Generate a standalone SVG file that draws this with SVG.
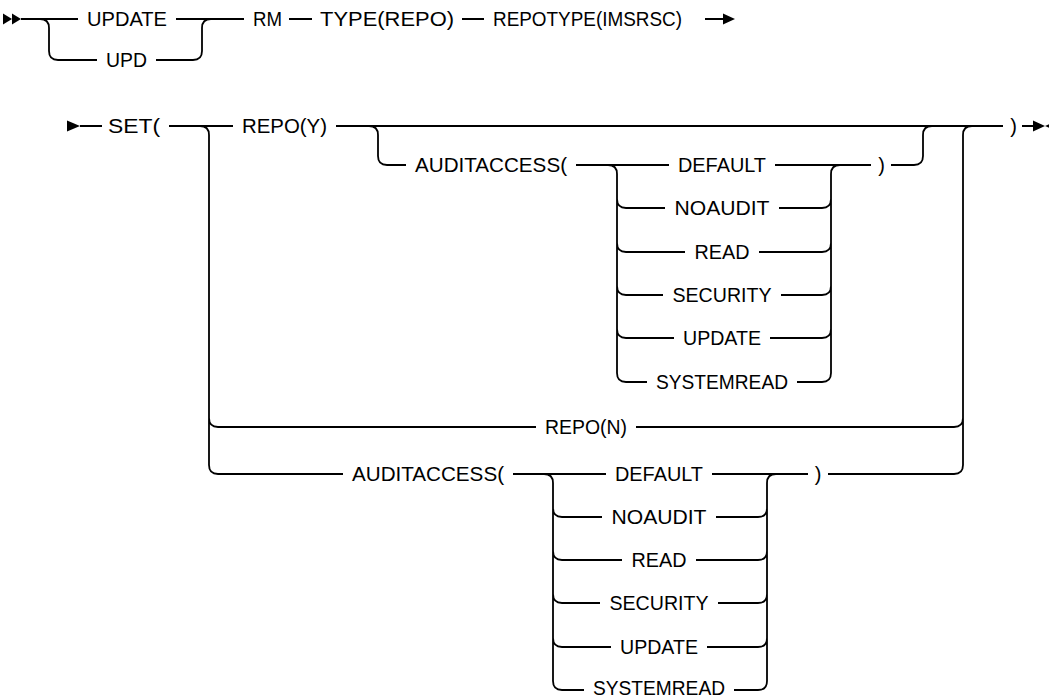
<svg xmlns="http://www.w3.org/2000/svg" width="1049" height="696" viewBox="0 0 1049 696">
<style>
  .t { font-family: "Liberation Sans", Arial, sans-serif; font-size: 20px; fill: #000; text-anchor: middle; }
  .c { fill: none; stroke: #000; stroke-width: 1.8; }
  .m { fill: #000; stroke: none; }
</style>
<rect width="1049" height="696" fill="#fff"/>
<g id="connectors">
  <!-- row 1 -->
  <polygon class="m" points="3,13.5 3,24.5 12,19"/>
  <polygon class="m" points="12,13.5 12,24.5 21,19"/>
  <path class="c" d="M21,19 H78 M176,19 H244 M289,19 H312 M462,19 H484 M705,19 H724"/>
  <polygon class="m" points="723,13.5 723,24.5 735,19"/>
  <path class="c" d="M40,19 Q49,19 49,28 V51 Q49,60 58,60 H97 M156,60 H193 Q202,60 202,51 V28 Q202,19 211,19"/>
  <!-- row 2 main -->
  <polygon class="m" points="67,120.5 67,131.5 80,126"/>
  <path class="c" d="M80,126 H102 M169,126 H233 M336,126 H1003 M1022,126 H1034"/>
  <polygon class="m" points="1033,120.5 1033,131.5 1045,126"/>
  <polygon class="m" points="1057,120.5 1057,131.5 1045,126"/>
  <!-- outer left / right -->
  <path class="c" d="M200,126 Q209,126 209,135 V465 Q209,474 218,474 H343 M209,418 Q209,427 218,427 H536 M636,427 H954 Q963,427 963,418 M954,474 Q963,474 963,465 V135 Q963,126 972,126"/>
  <!-- upper optional audit -->
  <path class="c" d="M369,126 Q378,126 378,135 V156 Q378,165 387,165 H406 M576,165 H669 M775,165 H871 M891,165 H914 Q923,165 923,156 V135 Q923,126 932,126"/>
  <path class="c" d="M608,165 Q617,165 617,174 V373 Q617,382 626,382 H647
                     M617,199 Q617,208 626,208 H665
                     M617,243 Q617,252 626,252 H685
                     M617,286 Q617,295 626,295 H663
                     M617,329 Q617,338 626,338 H674
                     M779,208 H822 Q831,208 831,199
                     M759,252 H822 Q831,252 831,243
                     M781,295 H822 Q831,295 831,286
                     M770,338 H822 Q831,338 831,329
                     M797,382 H822 Q831,382 831,373 V174 Q831,165 840,165"/>
  <!-- lower audit -->
  <path class="c" d="M513,474 H606 M712,474 H808 M828,474 H954"/>
  <path class="c" d="M544,474 Q553,474 553,483 V681 Q553,690 562,690 H584
                     M553,508 Q553,517 562,517 H602
                     M553,551 Q553,560 562,560 H622
                     M553,594 Q553,603 562,603 H600
                     M553,638 Q553,647 562,647 H611
                     M716,517 H758 Q767,517 767,508
                     M696,560 H758 Q767,560 767,551
                     M718,603 H758 Q767,603 767,594
                     M707,647 H758 Q767,647 767,638
                     M734,690 H758 Q767,690 767,681 V483 Q767,474 776,474"/>
</g>
<g id="n-update"><text class="t" x="127" y="26" textLength="80" lengthAdjust="spacingAndGlyphs">UPDATE</text></g>
<g id="n-upd"><text class="t" x="126.5" y="67" textLength="41" lengthAdjust="spacingAndGlyphs">UPD</text></g>
<g id="n-rm"><text class="t" x="267.5" y="26" textLength="29" lengthAdjust="spacingAndGlyphs">RM</text></g>
<g id="n-type"><text class="t" x="387" y="26" textLength="134" lengthAdjust="spacingAndGlyphs">TYPE(REPO)</text></g>
<g id="n-repotype"><text class="t" x="587.5" y="26" textLength="189" lengthAdjust="spacingAndGlyphs">REPOTYPE(IMSRSC)</text></g>
<g id="n-set"><text class="t" x="134" y="133" textLength="52" lengthAdjust="spacingAndGlyphs">SET(</text></g>
<g id="n-repoy"><text class="t" x="284.5" y="133" textLength="85" lengthAdjust="spacingAndGlyphs">REPO(Y)</text></g>
<g id="n-close-main"><text class="t" x="1013.5" y="133">)</text></g>
<g id="n-audit1"><text class="t" x="491" y="172" textLength="152" lengthAdjust="spacingAndGlyphs">AUDITACCESS(</text></g>
<g id="n-default1"><text class="t" x="722" y="172" textLength="88" lengthAdjust="spacingAndGlyphs">DEFAULT</text></g>
<g id="n-noaudit1"><text class="t" x="722" y="215" textLength="95" lengthAdjust="spacingAndGlyphs">NOAUDIT</text></g>
<g id="n-read1"><text class="t" x="722" y="259" textLength="55" lengthAdjust="spacingAndGlyphs">READ</text></g>
<g id="n-security1"><text class="t" x="722" y="302" textLength="99" lengthAdjust="spacingAndGlyphs">SECURITY</text></g>
<g id="n-update1"><text class="t" x="722" y="345" textLength="78" lengthAdjust="spacingAndGlyphs">UPDATE</text></g>
<g id="n-systemread1"><text class="t" x="722" y="389" textLength="132" lengthAdjust="spacingAndGlyphs">SYSTEMREAD</text></g>
<g id="n-close1"><text class="t" x="881.5" y="172">)</text></g>
<g id="n-repon"><text class="t" x="586" y="434" textLength="82" lengthAdjust="spacingAndGlyphs">REPO(N)</text></g>
<g id="n-audit2"><text class="t" x="428" y="481" textLength="152" lengthAdjust="spacingAndGlyphs">AUDITACCESS(</text></g>
<g id="n-default2"><text class="t" x="659" y="481" textLength="88" lengthAdjust="spacingAndGlyphs">DEFAULT</text></g>
<g id="n-noaudit2"><text class="t" x="659" y="524" textLength="95" lengthAdjust="spacingAndGlyphs">NOAUDIT</text></g>
<g id="n-read2"><text class="t" x="659" y="567" textLength="55" lengthAdjust="spacingAndGlyphs">READ</text></g>
<g id="n-security2"><text class="t" x="659" y="610" textLength="99" lengthAdjust="spacingAndGlyphs">SECURITY</text></g>
<g id="n-update2"><text class="t" x="659" y="654" textLength="78" lengthAdjust="spacingAndGlyphs">UPDATE</text></g>
<g id="n-systemread2"><text class="t" x="659" y="695" textLength="132" lengthAdjust="spacingAndGlyphs">SYSTEMREAD</text></g>
<g id="n-close2"><text class="t" x="818" y="481">)</text></g>
</svg>
